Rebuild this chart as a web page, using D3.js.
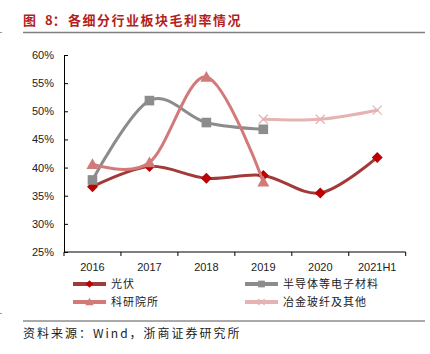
<!DOCTYPE html>
<html>
<head>
<meta charset="utf-8">
<script src="https://cdn.jsdelivr.net/npm/d3@7"></script>
<style>
  body { margin: 0; background: #fff; }
  svg { display: block; }
</style>
</head>
<body>
<svg id="chart" width="430" height="354"></svg>
<script>
// categories and series (percent)
const years = ["2016", "2017", "2018", "2019", "2020", "2021H1"];
const pv = [36.6, 40.2, 38.1, 38.6, 35.5, 41.8];            // 光伏
const semi = [37.8, 51.9, 48.0, 46.8, null, null];          // 半导体等电子材料
const inst = [40.6, 40.9, 56.1, 37.5, null, null];          // 科研院所
const metal = [null, null, null, 48.6, 48.6, 50.2];         // 冶金玻纤及其他
const yTicks = [25, 30, 35, 40, 45, 50, 55, 60];

const series = [
    { name: "光伏", values: pv, line: "#A33A3A", fill: "#C00000", marker: "diamond" },
    { name: "半导体等电子材料", values: semi, line: "#8C8C8C", fill: "#8C8C8C", marker: "square" },
    { name: "科研院所", values: inst, line: "#D27A7A", fill: "#D27A7A", marker: "triangle" },
    { name: "冶金玻纤及其他", values: metal, line: "#E6B3B3", fill: "#E6B3B3", marker: "cross" }
];

const svg = d3.select("#chart");
const plotLeft = 64, plotRight = 405.7, plotTop = 55, plotBottom = 252;

// small page-edge marks
svg.append("line").attr("x1", 0).attr("x2", 2).attr("y1", 32.5).attr("y2", 32.5).attr("stroke", "#999");
svg.append("line").attr("x1", 0).attr("x2", 2).attr("y1", 313.5).attr("y2", 313.5).attr("stroke", "#999");

// title
const red = "#B41E1E";
svg.append("text").attr("x", 23).attr("y", 25)
    .style("font", "bold 13px 'Noto Sans CJK SC'").attr("fill", red).text("图");
svg.append("text").attr("x", 45).attr("y", 25)
    .style("font", "bold 13px 'Noto Sans CJK SC'").attr("fill", red).text("8：");
svg.append("text").attr("x", 68).attr("y", 25)
    .style("font", "bold 13px 'Noto Sans CJK SC'").style("letter-spacing", "1.5px")
    .attr("fill", red).text("各细分行业板块毛利率情况");
svg.append("line").attr("x1", 23).attr("x2", 425).attr("y1", 32.5).attr("y2", 32.5)
    .attr("stroke", "#808080").attr("stroke-width", 1.5);

const x = d3.scaleBand().domain(years).range([plotLeft, plotRight]);
const y = d3.scaleLinear().domain([25, 60]).range([plotBottom, plotTop]);

// y axis
const yAxis = svg.append("g").attr("transform", `translate(${plotLeft},0)`)
    .call(d3.axisLeft(y).tickValues(yTicks).tickSize(-4).tickPadding(10).tickFormat(d => d + "%"));
yAxis.select(".domain").attr("stroke", "#000").attr("stroke-width", 1);
yAxis.selectAll("line").attr("stroke", "#000");
yAxis.selectAll("text").style("font", "11px 'Liberation Sans'").attr("fill", "#222");

// x axis with ticks at band boundaries
const xg = svg.append("g");
xg.append("line").attr("x1", plotLeft).attr("x2", plotRight).attr("y1", plotBottom).attr("y2", plotBottom)
    .attr("stroke", "#000");
const bounds = years.map(d => x(d)).concat([x(years[years.length - 1]) + x.bandwidth()]);
xg.selectAll(".xt").data(bounds).enter().append("line")
    .attr("x1", d => d).attr("x2", d => d).attr("y1", plotBottom).attr("y2", plotBottom + 4)
    .attr("stroke", "#000");
xg.selectAll(".xl").data(years).enter().append("text")
    .attr("x", d => x(d) + x.bandwidth() / 2).attr("y", 271)
    .attr("text-anchor", "middle")
    .style("font", "11px 'Liberation Sans'").attr("fill", "#222")
    .text(d => d);

const cx = d => x(d) + x.bandwidth() / 2;
const line = d3.line()
    .defined(d => d.v != null)
    .x(d => cx(d.year)).y(d => y(d.v))
    .curve(d3.curveCatmullRom.alpha(0));

function drawMarker(g, type, px, py, color, scale) {
    const s = scale || 1;
    if (type === "diamond") {
        const r = 5.5 * s;
        g.append("path").attr("d", `M${px},${py - r}L${px + r},${py}L${px},${py + r}L${px - r},${py}Z`)
            .attr("fill", color);
    } else if (type === "square") {
        const r = 4.8 * s;
        g.append("rect").attr("x", px - r).attr("y", py - r).attr("width", 2 * r).attr("height", 2 * r)
            .attr("fill", color);
    } else if (type === "triangle") {
        const r = 6 * s;
        g.append("path").attr("d", `M${px},${py - r}L${px + r},${py + r * 0.8}L${px - r},${py + r * 0.8}Z`)
            .attr("fill", color);
    } else {
        const r = 4.5 * s;
        g.append("path").attr("d", `M${px - r},${py - r}L${px + r},${py + r}M${px - r},${py + r}L${px + r},${py - r}`)
            .attr("stroke", color).attr("stroke-width", 1.3).attr("fill", "none");
    }
}

series.forEach(s => {
    const pts = years.map((yr, i) => ({ year: yr, v: s.values[i] }));
    const g = svg.append("g");
    g.append("path").datum(pts).attr("d", line)
        .attr("fill", "none").attr("stroke", s.line).attr("stroke-width", 3)
        .attr("stroke-linecap", "round");
    pts.filter(p => p.v != null).forEach(p => drawMarker(g, s.marker, cx(p.year), y(p.v), s.fill));
});

// legend
const legendPos = [[73, 284], [245, 284], [73, 302], [245, 302]];
series.forEach((s, i) => {
    const [lx, ly] = legendPos[i];
    const g = svg.append("g");
    g.append("line").attr("x1", lx).attr("x2", lx + 33).attr("y1", ly).attr("y2", ly)
        .attr("stroke", s.line).attr("stroke-width", 4);
    drawMarker(g, s.marker, lx + 16.5, ly, s.fill, 0.7);
    g.append("text").attr("x", lx + 38).attr("y", ly + 4)
        .style("font", "11px 'Noto Sans CJK SC'").style("letter-spacing", "1px")
        .attr("fill", "#222").text(s.name);
});

// source
svg.append("line").attr("x1", 23).attr("x2", 425).attr("y1", 321).attr("y2", 321)
    .attr("stroke", "#555").attr("stroke-width", 1);
svg.append("text").attr("x", 23).attr("y", 337.5)
    .style("font", "12px 'Noto Sans CJK SC'").style("letter-spacing", "2px")
    .attr("fill", "#222").text("资料来源：Wind，浙商证券研究所");
</script>
</body>
</html>
